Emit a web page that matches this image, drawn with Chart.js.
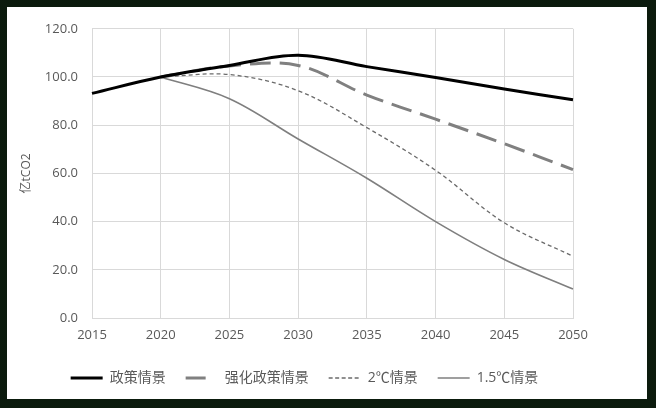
<!DOCTYPE html>
<html lang="zh-CN">
<head>
<meta charset="UTF-8">
<title>排放情景</title>
<script src="https://cdn.jsdelivr.net/npm/chart.js"></script>
<style>
  html, body { margin: 0; padding: 0; }
  body {
    width: 656px; height: 408px; position: relative; overflow: hidden;
    background-color: #030603;
    background-image: radial-gradient(#1f4a24 0.5px, transparent 0.8px);
    background-size: 2px 2px;
  }
  #panel { position: absolute; left: 7px; top: 7px; width: 640px; height: 392px; background: #fff; overflow: hidden; }
  #box { width: 640px; height: 388px; }
</style>
</head>
<body>
<div id="panel">
  <div id="box"><canvas id="chart"></canvas></div>
</div>
<script>
// 年份（横轴）
const years = ['2015', '2020', '2025', '2030', '2035', '2040', '2045', '2050'];
// 各情景排放量（亿tCO2）
const policy   = [93.2, 100, 104.8, 109.0, 104.3, 99.8, 95.0, 90.6];
const enhanced = [null, 100, 104.6, 104.8, 92.5, 82.5, 72.3, 61.6];
const twoC     = [null, 100, 101.0, 94.3, 79.0, 61.3, 39.5, 25.6];
const oneFiveC = [null, 100, 91.0, 74.3, 58.0, 40.0, 24.3, 12.0];
const seriesNames = ['政策情景', '强化政策情景', '2℃情景', '1.5℃情景'];

const textColor = '#595959';
const gridColor = '#d9d9d9';
const fam = "'Open Sans', 'Noto Sans CJK SC', sans-serif";

const ctx = document.getElementById('chart').getContext('2d');
new Chart(ctx, {
  type: 'line',
  data: {
    labels: years,
    datasets: [
      { label: seriesNames[0], data: policy, borderColor: '#000000', borderWidth: 3, legendDash: [] },
      { label: seriesNames[1], data: enhanced, borderColor: '#808080', borderWidth: 3, borderDash: [21, 9], legendDash: [20, 20] },
      { label: seriesNames[2], data: twoC, borderColor: '#6b6b6b', borderWidth: 1.3, borderDash: [4, 3], legendDash: [4, 2.5] },
      { label: seriesNames[3], data: oneFiveC, borderColor: '#7f7f7f', borderWidth: 1.6, legendDash: [] }
    ]
  },
  options: {
    responsive: true,
    maintainAspectRatio: false,
    animation: false,
    layout: { padding: { top: 18, right: 45, bottom: 0, left: 0 } },
    elements: {
      line: { tension: 0.35, fill: false },
      point: { radius: 0, hoverRadius: 0 }
    },
    scales: {
      x: {
        type: 'category',
        offset: false,
        grid: { color: gridColor, drawTicks: false },
        border: { color: gridColor },
        ticks: { color: textColor, font: { family: fam, size: 13 }, padding: 9, maxRotation: 0, autoSkip: false },
        afterFit: s => { s.height = 33; }
      },
      y: {
        min: 0, max: 120,
        grid: { color: gridColor, drawTicks: false },
        border: { color: gridColor },
        ticks: { stepSize: 20, color: textColor, font: { family: fam, size: 13 }, padding: 14,
                 callback: v => v.toFixed(1) },
        title: { display: true, text: '亿tCO2', color: textColor, font: { family: fam, size: 12 }, padding: { top: 12, bottom: 0 } },
        afterFit: s => { s.width = 85; }
      },
      spare: {
        type: 'linear', position: 'right', display: true,
        grid: { display: false }, border: { display: false },
        ticks: { display: false },
        afterFit: s => { s.width = 29; }
      }
    },
    plugins: {
      tooltip: { enabled: false },
      legend: {
        position: 'bottom',
        labels: {
          usePointStyle: true,
          pointStyleWidth: 32,
          padding: 20,
          color: textColor,
          font: { family: fam, size: 14 },
          generateLabels: chart => chart.data.datasets.map((d, i) => ({
            text: d.label,
            fillStyle: d.borderColor,
            strokeStyle: d.borderColor,
            fontColor: textColor,
            lineWidth: d.borderWidth,
            lineDash: d.legendDash,
            pointStyle: 'line',
            hidden: false,
            datasetIndex: i
          }))
        }
      }
    }
  }
});
</script>
</body>
</html>
